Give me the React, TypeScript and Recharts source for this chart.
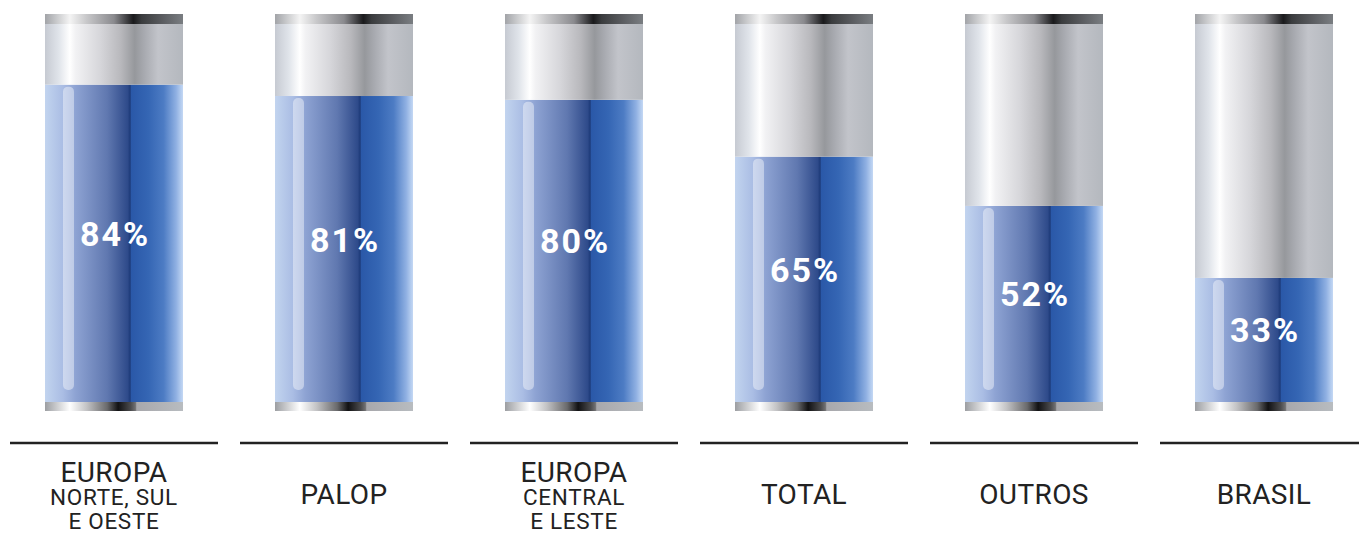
import React from 'react';
import { BarChart, Bar, XAxis, YAxis, LabelList } from 'recharts';

const categoryTitles = ['EUROPA', 'PALOP', 'EUROPA', 'TOTAL', 'OUTROS', 'BRASIL'];
const categorySubtitles: string[][] = [['NORTE, SUL', 'E OESTE'], [], ['CENTRAL', 'E LESTE'], [], [], []];
const values = [84, 81, 80, 65, 52, 33];

const data = categoryTitles.map((t, i) => ({
  name: [t, ...categorySubtitles[i]].join(' ') + '#' + i,
  idx: i,
  value: values[i],
  rest: 100 - values[i],
}));

const FONT = 'Roboto, "Noto Sans", sans-serif';

const FillShape = (props: any) => {
  const { x, y, width, height } = props;
  return (
    <g>
      <rect x={x} y={y} width={width} height={height} fill="url(#blueGrad)" />
      <rect x={x + 18} y={y + 2} width={11} height={Math.max(0, height - 15)} rx={5} fill="rgba(255,255,255,0.42)" />
      <rect x={x} y={y + height - 1} width={width} height={9} fill="url(#bottomCap)" />
    </g>
  );
};

const RestShape = (props: any) => {
  const { x, y, width, height } = props;
  return (
    <g>
      <rect x={x} y={y} width={width} height={height} fill="url(#grayGrad)" />
      <rect x={x} y={y - 10} width={width} height={10} fill="url(#topCap)" />
    </g>
  );
};

const PctLabel = (props: any) => {
  const { x, y, width, height, value } = props;
  return (
    <text
      x={x + width / 2 + 1}
      y={y + height / 2 - 10}
      textAnchor="middle"
      dominantBaseline="central"
      fill="#ffffff"
      fontFamily={FONT}
      fontWeight={700}
      fontSize={34}
      letterSpacing={2}
    >
      {value}%
    </text>
  );
};

const CategoryTick = (props: any) => {
  const { x, y, index } = props;
  const title = categoryTitles[index];
  const subs = categorySubtitles[index] || [];
  const lineY = y + 40;
  return (
    <g>
      <line x1={x - 104} x2={x + 104} y1={lineY} y2={lineY} stroke="#222" strokeWidth={2.5} />
      {subs.length === 0 ? (
        <text x={x} y={y + 100.5} textAnchor="middle" fill="#222" fontFamily={FONT} fontSize={28} letterSpacing={0.4}>
          {title}
        </text>
      ) : (
        <text x={x} y={y + 79} textAnchor="middle" fill="#222" fontFamily={FONT}>
          <tspan x={x} fontSize={28} letterSpacing={0.4}>{title}</tspan>
          {subs.map((s, k) => (
            <tspan key={k} x={x} dy={k === 0 ? 22.5 : 24.5} fontSize={22.5} letterSpacing={0.7}>
              {s}
            </tspan>
          ))}
        </text>
      )}
    </g>
  );
};

export default function App() {
  return (
    <div style={{ width: 1359, height: 533, overflow: 'hidden', position: 'relative', background: '#fff' }}>
      <style>{'body{margin:0;overflow:hidden}'}</style>
      <div style={{ position: 'absolute', left: -1, top: 0 }}>
        <BarChart width={1380} height={533} data={data} margin={{ top: 24, right: 0, left: 0, bottom: 0 }} barSize={138}>
          <defs>
            <linearGradient id="blueGrad" x1="0" y1="0" x2="1" y2="0">
              <stop offset="0" stopColor="#c2d4ef" />
              <stop offset="0.13" stopColor="#aabde4" />
              <stop offset="0.22" stopColor="#8ea3d3" />
              <stop offset="0.45" stopColor="#6078b0" />
              <stop offset="0.6" stopColor="#2e4a8a" />
              <stop offset="0.617" stopColor="#1d3a78" />
              <stop offset="0.625" stopColor="#2a58a8" />
              <stop offset="0.75" stopColor="#3566b4" />
              <stop offset="0.86" stopColor="#4d7cc4" />
              <stop offset="0.95" stopColor="#8fb0e2" />
              <stop offset="1" stopColor="#c4d8f4" />
            </linearGradient>
            <linearGradient id="grayGrad" x1="0" y1="0" x2="1" y2="0">
              <stop offset="0" stopColor="#c6cad2" />
              <stop offset="0.1" stopColor="#e0e4ea" />
              <stop offset="0.18" stopColor="#ffffff" />
              <stop offset="0.22" stopColor="#f2f2f4" />
              <stop offset="0.4" stopColor="#d6d6da" />
              <stop offset="0.55" stopColor="#b8b8bc" />
              <stop offset="0.65" stopColor="#96989c" />
              <stop offset="0.72" stopColor="#a8aab0" />
              <stop offset="0.82" stopColor="#c2c4ca" />
              <stop offset="1" stopColor="#b4b8be" />
            </linearGradient>
            <linearGradient id="topCap" x1="0" y1="0" x2="1" y2="0">
              <stop offset="0" stopColor="#a2a4a8" />
              <stop offset="0.18" stopColor="#f4f4f4" />
              <stop offset="0.3" stopColor="#c8c8ca" />
              <stop offset="0.5" stopColor="#8a8a8e" />
              <stop offset="0.64" stopColor="#1a1a1c" />
              <stop offset="0.7" stopColor="#3a3c3e" />
              <stop offset="0.85" stopColor="#5a5c60" />
              <stop offset="1" stopColor="#7a7e82" />
            </linearGradient>
            <linearGradient id="bottomCap" x1="0" y1="0" x2="1" y2="0">
              <stop offset="0" stopColor="#9c9ea2" />
              <stop offset="0.18" stopColor="#ffffff" />
              <stop offset="0.3" stopColor="#c4c4c6" />
              <stop offset="0.45" stopColor="#6a6a6c" />
              <stop offset="0.53" stopColor="#111113" />
              <stop offset="0.62" stopColor="#4a4a4c" />
              <stop offset="0.655" stopColor="#707072" />
              <stop offset="0.665" stopColor="#a8a8ac" />
              <stop offset="1" stopColor="#b8bcc0" />
            </linearGradient>
          </defs>
          <XAxis
            dataKey="name"
            height={130}
            axisLine={false}
            tickLine={false}
            tickSize={0}
            tickMargin={0}
            interval={0}
            tick={<CategoryTick />}
          />
          <YAxis hide domain={[0, 100]} />
          <Bar dataKey="value" stackId="a" shape={<FillShape />} isAnimationActive={false}>
            <LabelList dataKey="value" content={<PctLabel />} />
          </Bar>
          <Bar dataKey="rest" stackId="a" shape={<RestShape />} isAnimationActive={false} />
        </BarChart>
      </div>
    </div>
  );
}
